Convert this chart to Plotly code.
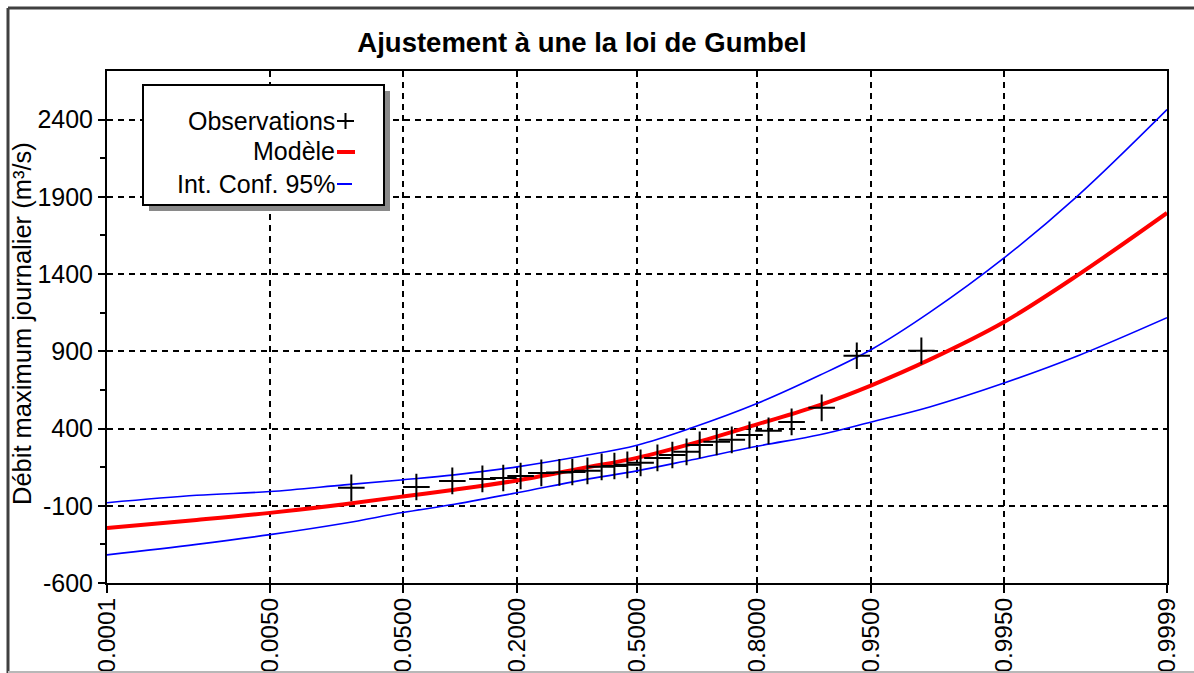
import plotly.graph_objects as go
from statistics import NormalDist

nd = NormalDist()

# ---- data ----
tick_probs = [0.0001, 0.005, 0.05, 0.2, 0.5, 0.8, 0.95, 0.995, 0.9999]
tick_labels = ["0.0001", "0.0050", "0.0500", "0.2000", "0.5000",
               "0.8000", "0.9500", "0.9950", "0.9999"]

y_ticks = [-600, -100, 400, 900, 1400, 1900, 2400]
y_tick_labels = ["-600", "-100", "400", "900", "1400", "1900", "2400"]
y_minor_ticks = [-350, 150, 650, 1150, 1650, 2150]

curve_probs = [0.0001, 0.001, 0.005, 0.02, 0.05, 0.1, 0.2, 0.35, 0.5, 0.65,
               0.8, 0.9, 0.95, 0.98, 0.995, 0.999, 0.9999]
model_q = [-244, -192, -146, -90, -40, 4, 64, 143, 210, 302,
           427, 552, 680, 846, 1090, 1392, 1796]
upper_q = [-80, -32, -8, 35, 68, 100, 152, 222, 292, 405,
           562, 745, 912, 1152, 1505, 1905, 2465]
lower_q = [-418, -350, -287, -213, -144, -90, -16, 66, 126, 198,
           285, 360, 443, 540, 695, 870, 1118]

obs_probs = [0.0225, 0.0608, 0.0975, 0.139, 0.174, 0.207, 0.251, 0.293,
             0.325, 0.364, 0.402, 0.437, 0.473, 0.510, 0.557, 0.598,
             0.636, 0.670, 0.712, 0.747, 0.785, 0.822, 0.861, 0.9025,
             0.9385, 0.977]
obs_q = [16, 22, 61, 74, 80, 93, 113, 116, 119, 126, 152, 158, 165, 178,
         210, 229, 249, 294, 314, 327, 359, 385, 443, 534, 871, 903]

y_min, y_max = -600, 2715


def zx(ps):
    return [nd.inv_cdf(p) for p in ps]


FONT = "Liberation Sans, Arial, sans-serif"

fig = go.Figure()
fig.add_trace(go.Scatter(x=zx(curve_probs), y=upper_q, mode="lines",
                         line=dict(color="#0000FF", width=1.6, shape="spline", smoothing=1.0),
                         showlegend=False, hoverinfo="skip"))
fig.add_trace(go.Scatter(x=zx(curve_probs), y=lower_q, mode="lines",
                         line=dict(color="#0000FF", width=1.6, shape="spline", smoothing=1.0),
                         showlegend=False, hoverinfo="skip"))
fig.add_trace(go.Scatter(x=zx(curve_probs), y=model_q, mode="lines",
                         line=dict(color="#FF0000", width=4, shape="spline", smoothing=1.0),
                         showlegend=False))
fig.add_trace(go.Scatter(x=zx(obs_probs), y=obs_q, mode="markers",
                         marker=dict(symbol="cross-thin", size=19,
                                     line=dict(color="black", width=2)),
                         showlegend=False))

# plot area in pixels: left 107, right 1167, top 71, bottom 583
L, R, T, B = 107, 1167, 71, 583
W, H = R - L, B - T


def px(x):
    return (x - L) / W


def py(y):
    return (B - y) / H


shapes = []
# outer frame (sunken panel look)
shapes.append(dict(type="line", xref="paper", yref="paper", x0=px(8), x1=px(1194),
                   y0=py(8), y1=py(8), line=dict(color="#404040", width=3)))
shapes.append(dict(type="line", xref="paper", yref="paper", x0=px(8), x1=px(8),
                   y0=py(8), y1=py(673), line=dict(color="#404040", width=3)))
shapes.append(dict(type="line", xref="paper", yref="paper", x0=px(8), x1=px(1194),
                   y0=py(672), y1=py(672), line=dict(color="#b8b8b8", width=2)))
# legend shadow and box
shapes.append(dict(type="rect", xref="paper", yref="paper", layer="above",
                   x0=px(149), x1=px(390), y0=py(91), y1=py(211),
                   fillcolor="#8a8a8a", line=dict(width=0)))
shapes.append(dict(type="rect", xref="paper", yref="paper", layer="above",
                   x0=px(143), x1=px(384), y0=py(85), y1=py(205),
                   fillcolor="white", line=dict(color="black", width=2)))
# legend symbols
shapes.append(dict(type="line", xref="paper", yref="paper", layer="above",
                   x0=px(337), x1=px(354), y0=py(121), y1=py(121),
                   line=dict(color="black", width=2)))
shapes.append(dict(type="line", xref="paper", yref="paper", layer="above",
                   x0=px(345.5), x1=px(345.5), y0=py(113), y1=py(129),
                   line=dict(color="black", width=2)))
shapes.append(dict(type="line", xref="paper", yref="paper", layer="above",
                   x0=px(337), x1=px(355), y0=py(152), y1=py(152),
                   line=dict(color="#FF0000", width=4)))
shapes.append(dict(type="line", xref="paper", yref="paper", layer="above",
                   x0=px(337), x1=px(352), y0=py(184), y1=py(184),
                   line=dict(color="#0000FF", width=2)))

annotations = []
for txt, yy in [("Observations", 121), ("Modèle", 151), ("Int. Conf. 95%", 184)]:
    annotations.append(dict(text=txt, xref="paper", yref="paper", x=px(337), y=py(yy),
                            xanchor="right", yanchor="middle", showarrow=False,
                            font=dict(family=FONT, size=25, color="black")))
annotations.append(dict(text="Débit maximum journalier (m³/s)",
                        xref="paper", yref="paper", x=px(22), y=py(324),
                        xanchor="center", yanchor="middle", textangle=-90,
                        showarrow=False, font=dict(family=FONT, size=25.5, color="black")))

fig.update_layout(
    width=1194, height=673,
    margin=dict(l=L, r=1194 - R, t=T, b=673 - B, autoexpand=False),
    paper_bgcolor="white", plot_bgcolor="white",
    title=dict(text="Ajustement à une la loi de Gumbel", xref="container", yref="container",
               x=582 / 1194, y=1 - 42 / 673, xanchor="center", yanchor="middle",
               font=dict(family=FONT, size=27.5, color="black", weight="bold")),
    shapes=shapes, annotations=annotations,
    showlegend=False,
)

fig.update_xaxes(
    automargin=False,
    range=[nd.inv_cdf(tick_probs[0]), nd.inv_cdf(tick_probs[-1])],
    tickmode="array", tickvals=zx(tick_probs), ticktext=tick_labels,
    tickangle=-90, ticks="outside", ticklen=8, tickwidth=2, tickcolor="black",
    ticklabelstandoff=-5,
    showline=True, linewidth=2, linecolor="black", mirror=True,
    showgrid=True, gridcolor="black", gridwidth=2, griddash="6px,5px",
    zeroline=False, tickfont=dict(family=FONT, size=24.5, color="black"),
)
fig.update_yaxes(
    automargin=False,
    range=[y_min, y_max], tickmode="array", tickvals=y_ticks, ticktext=y_tick_labels,
    ticks="outside", ticklen=7, tickwidth=2, tickcolor="black",
    minor=dict(tickmode="array", tickvals=y_minor_ticks, ticks="outside", ticklen=5,
               tickwidth=2, tickcolor="black", showgrid=False),
    showline=True, linewidth=2, linecolor="black", mirror=True,
    showgrid=True, gridcolor="black", gridwidth=2, griddash="6px,5px",
    zeroline=False, tickfont=dict(family=FONT, size=25, color="black"),
)

fig.write_html("out.html", config={"displayModeBar": False},
               post_script="document.body.style.margin='0px';")
